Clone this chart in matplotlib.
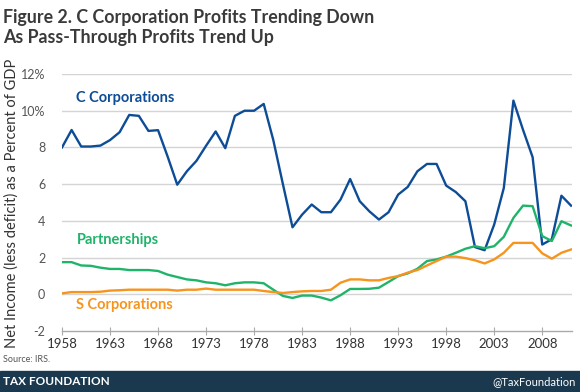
import matplotlib
matplotlib.use("Agg")
import matplotlib.pyplot as plt
import numpy as np

years = list(range(1958, 2012))
c_corp = [8.0, 8.95, 8.05, 8.05, 8.1, 8.4, 8.83, 9.77, 9.72, 8.9,
          8.94, 7.5, 5.97, 6.7, 7.27, 8.09, 8.87, 7.96, 9.72, 10.0,
          10.0, 10.37, 8.4, 6.0, 3.65, 4.34, 4.89, 4.47, 4.47, 5.16,
          6.28, 5.07, 4.52, 4.07, 4.47, 5.43, 5.85, 6.7, 7.1, 7.1,
          5.92, 5.57, 5.07, 2.57, 2.4, 3.8, 5.79, 10.55, 8.96, 7.47,
          2.71, 3.0, 5.37, 4.83]
partnerships = [1.75, 1.75, 1.57, 1.55, 1.45, 1.38, 1.38, 1.32, 1.32, 1.32,
                1.27, 1.07, 0.94, 0.81, 0.76, 0.65, 0.6, 0.49, 0.6, 0.65,
                0.65, 0.6, 0.25, -0.09, -0.2, -0.07, -0.07, -0.18, -0.33, -0.05,
                0.29, 0.29, 0.3, 0.36, 0.67, 0.99, 1.14, 1.39, 1.81, 1.9,
                2.05, 2.26, 2.48, 2.62, 2.51, 2.62, 3.13, 4.16, 4.83, 4.8,
                3.17, 2.9, 3.98, 3.75]
s_corp = [0.05, 0.12, 0.12, 0.12, 0.14, 0.2, 0.22, 0.25, 0.25, 0.25,
          0.25, 0.25, 0.2, 0.25, 0.25, 0.31, 0.25, 0.25, 0.25, 0.25,
          0.25, 0.18, 0.12, 0.07, 0.12, 0.16, 0.18, 0.18, 0.25, 0.63,
          0.81, 0.81, 0.76, 0.76, 0.89, 0.99, 1.18, 1.32, 1.57, 1.81,
          2.05, 2.05, 1.97, 1.85, 1.68, 1.9, 2.26, 2.8, 2.8, 2.8,
          2.23, 1.94, 2.26, 2.44]

xticks = [1958, 1963, 1968, 1973, 1978, 1983, 1988, 1993, 1998, 2003, 2008]
yticks = [-2, 0, 2, 4, 6, 8, 10, 12]
ytick_labels = ["-2", "0", "2", "4", "6", "8", "10%", "12%"]

BLUE = "#0d4c96"
GREEN = "#1fb46a"
ORANGE = "#f7941d"
NAVY = "#1b394e"
TXT = "#333333"
FONT = ["Lato", "DejaVu Sans"]

plt.rcParams['font.family'] = FONT

fig = plt.figure(figsize=(5.8, 3.92), dpi=100)
W, H = 580, 392
ax = fig.add_axes([62 / W, 1 - 331 / H, (572 - 62) / W, (331 - 74) / H])

for v in yticks[1:]:
    ax.axhline(v, color="#d4d4d4", lw=1.0, zorder=1)

ax.plot(years, c_corp, color=BLUE, lw=1.7, zorder=3)
ax.plot(years, partnerships, color=GREEN, lw=1.7, zorder=3)
ax.plot(years, s_corp, color=ORANGE, lw=1.7, zorder=3)

ax.set_xlim(1958, 2011.1)
ax.set_ylim(-2, 12)
for s in ["top", "right", "left"]:
    ax.spines[s].set_visible(False)
ax.spines["bottom"].set_color("#aaaaaa")
ax.spines["bottom"].set_linewidth(1.0)

ax.set_xticks(xticks)
ax.set_xticklabels([str(x) for x in xticks], fontsize=9.5, color=TXT)
ax.tick_params(axis="x", direction="inout", length=6, color="#aaaaaa", pad=2)
ax.set_yticks(yticks)
ax.set_yticklabels(ytick_labels, fontsize=9, color="#555555")
ax.tick_params(axis="y", length=0, pad=12)

ax.text(1959.5, 10.7, "C Corporations", color=BLUE, fontsize=10.5,
        fontweight="bold", va="center", ha="left")
ax.text(1959.5, 2.95, "Partnerships", color=GREEN, fontsize=10.5,
        fontweight="bold", va="center", ha="left")
ax.text(1959.5, -0.6, "S Corporations", color=ORANGE, fontsize=10.5,
        fontweight="bold", va="center", ha="left")

fig.text(12 / W, 1 - 203 / H, "Net Income (less deficit) as a Percent of GDP",
         rotation=90, fontsize=10.5, color=TXT, ha="center", va="center")

fig.text(3 / W, 1 - 17 / H, "Figure 2. C Corporation Profits Trending Down",
         fontsize=12.8, fontweight="bold", color="#3a3a3a", ha="left", va="center")
fig.text(3 / W, 1 - 37 / H, "As Pass-Through Profits Trend Up",
         fontsize=12.8, fontweight="bold", color="#3a3a3a", ha="left", va="center")

fig.text(3 / W, 1 - 359 / H, "Source: IRS.", fontsize=6.5, color="#555555",
         ha="left", va="center")

band = plt.Rectangle((0, 0), 1, 21 / H, transform=fig.transFigure,
                     color=NAVY, zorder=0)
fig.patches.append(band)
fig.text(3 / W, 10.5 / H, "TAX FOUNDATION", fontsize=8.5, fontweight="bold",
         color="white", ha="left", va="center")
fig.text(576 / W, 10.5 / H, "@TaxFoundation", fontsize=8, color="white",
         ha="right", va="center")

fig.savefig("out.png", dpi=100)
